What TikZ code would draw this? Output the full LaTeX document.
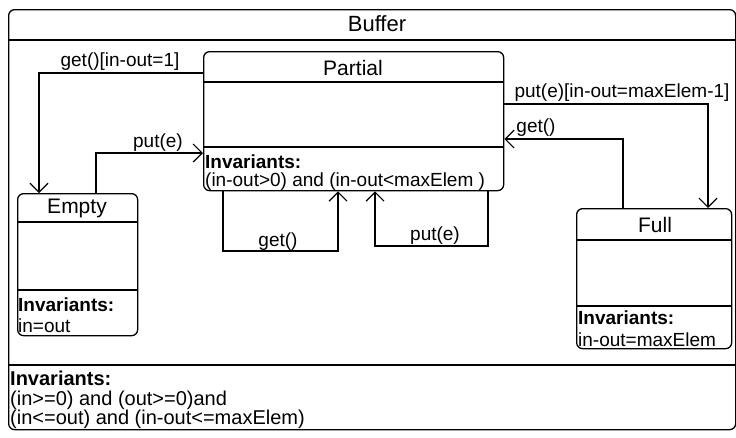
\documentclass[tikz,border=0pt]{standalone}
\usepackage{fontspec}
\setmainfont{Liberation Sans}
\usetikzlibrary{arrows.meta}
\begin{document}
\begin{tikzpicture}[x=1pt,y=-1pt,
  frame/.style={draw, line width=1.3pt, rounded corners=6pt, inner sep=0, anchor=north west},
  sep/.style={line width=1.2pt},
  title/.style={font=\fontsize{21}{24}\selectfont, inner sep=0},
  lbl/.style={font=\fontsize{19}{22}\selectfont, inner sep=0},
  invhead/.style={font=\fontsize{19}{22}\selectfont\bfseries, inner sep=0, anchor=west},
  invtext/.style={font=\fontsize{19}{22}\selectfont, inner sep=0, anchor=west},
  trans/.style={draw, line width=1.2pt, -{Straight Barb[length=9pt,width=18pt,line width=1.2pt]}}]
\useasboundingbox (0,0) rectangle (736,437);

% outer composite state
\node[frame, minimum width=727, minimum height=420] (buffer) at (8,9) {};
\node[title, font=\fontsize{22}{24}\selectfont] (bufname) at (377,24) {Buffer};
\draw[sep] (buffer.west |- 0,40) -- (buffer.east |- 0,40);
\draw[sep] (buffer.west |- 0,365) -- (buffer.east |- 0,365);
\node[inner sep=0, anchor=north west, align=left,
      font=\fontsize{20}{19.5}\selectfont] (bufinv) at (10,371)
  {\textbf{Invariants:}\\(in>=0) and (out>=0)and\\(in<=out) and (in-out<=maxElem)};

% Partial
\node[frame, minimum width=300, minimum height=139] (partial) at (203,51) {};
\node[title] (partname) at (353,68) {Partial};
\draw[sep] (partial.west |- 0,82) -- (partial.east |- 0,82);
\draw[sep] (partial.west |- 0,147) -- (partial.east |- 0,147);
\node[invhead] (partinv) at (205,162) {Invariants:};
\node[invtext] (partinv1) at (205,182) {(in-out>0) and (in-out<maxElem )};

% Empty
\node[frame, minimum width=120, minimum height=142] (empty) at (17,193) {};
\node[title] (emptyname) at (77,208) {Empty};
\draw[sep] (empty.west |- 0,222) -- (empty.east |- 0,222);
\draw[sep] (empty.west |- 0,290) -- (empty.east |- 0,290);
\node[invhead] (emptyinv) at (18,305) {Invariants:};
\node[invtext] (emptyinv1) at (18,326) {in=out};

% Full
\node[frame, minimum width=155, minimum height=140] (full) at (576,208) {};
\node[title] (fullname) at (655,225) {Full};
\draw[sep] (full.west |- 0,240) -- (full.east |- 0,240);
\draw[sep] (full.west |- 0,306) -- (full.east |- 0,306);
\node[invhead] (fullinv) at (578,318) {Invariants:};
\node[invtext] (fullinv1) at (578,340) {in-out=maxElem};

% transitions
\draw[trans] (partial.west |- 0,73) -| (39,0 |- empty.north);
\node[lbl] (l1) at (120,62) {get()[in-out=1]};

\draw[trans] (96,0 |- empty.north) |- (partial.west |- 0,153);
\node[lbl] (l2) at (158,143) {put(e)};

\draw[trans] (partial.east |- 0,104) -| (708,0 |- full.north);
\node[lbl] (l3) at (622,93) {put(e)[in-out=maxElem-1]};

\draw[trans] (623,0 |- full.north) |- (partial.east |- 0,139);
\node[lbl] (l4) at (536,128) {get()};

\draw[trans] (223,0 |- partial.south) -- (223,251) -- (338,251) -- (338,0 |- partial.south);
\node[lbl] (l5) at (278,242) {get()};

\draw[trans] (488,0 |- partial.south) -- (488,246) -- (375,246) -- (375,0 |- partial.south);
\node[lbl] (l6) at (435,236) {put(e)};
\end{tikzpicture}
\end{document}
